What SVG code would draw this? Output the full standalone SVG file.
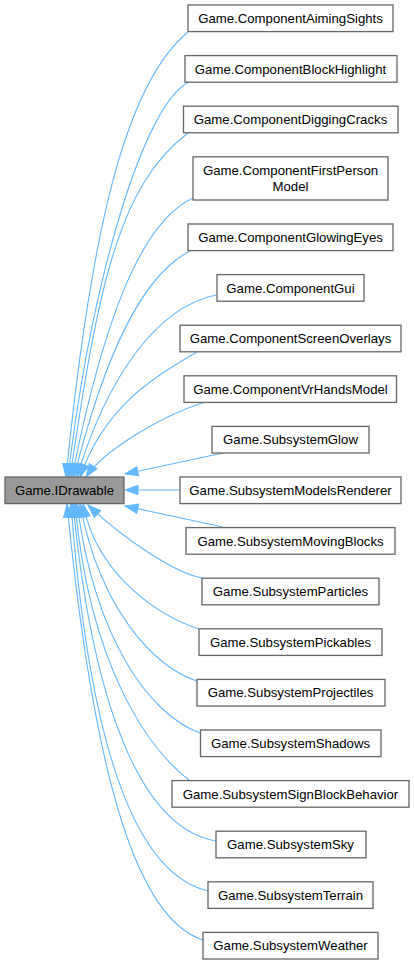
<svg xmlns="http://www.w3.org/2000/svg" width="414" height="965" viewBox="0 0 414 965">
<style>
.n rect{fill:#ffffff;stroke:#666666;stroke-width:1.3}
.n.main rect{fill:#999999}
.n text{font-family:"Liberation Sans",Arial,Helvetica,sans-serif;font-size:13.2px;fill:#000000;text-anchor:middle}
#edges path{fill:none;stroke:#63b8ff;stroke-width:1.1;marker-end:url(#ah)}
</style>
<defs>
<marker id="ah" markerUnits="userSpaceOnUse" markerWidth="14" markerHeight="10" refX="13" refY="4.65" orient="auto" overflow="visible">
<path d="M0,0 L13,4.65 L0,9.3 z" fill="#63b8ff" stroke="#63b8ff" stroke-width="1"/>
</marker>
</defs>
<rect width="414" height="965" fill="#ffffff"/>
<g id="edges">
<path d="M188,32 C126,83 91,227 66,477"/>
<path d="M189,82 C144,104 92,277 68,477"/>
<path d="M188,133 C116,187 97,297 70,477"/>
<path d="M193,198 C139,223 102,327 72,477"/>
<path d="M190,251 C141,276 104,357 74,477"/>
<path d="M216,295 C157,307 107,377 77,477"/>
<path d="M197,352 C153,377 104.5,407 80,477"/>
<path d="M205,402 C158,417 102.5,452 86,477"/>
<path d="M223,453 L125,474"/>
<path d="M180,490 L125,490"/>
<path d="M223,527 L125,506"/>
<path d="M202,578 C175,573 125,540 88,505"/>
<path d="M199,629 C165,618 98,580 83,504"/>
<path d="M197,681 C155,668 100,610 80,504"/>
<path d="M200,733 C150,715 95,640 77,504"/>
<path d="M190,781 C150,750 90,670 75,504"/>
<path d="M216,841 C150,830 95,730 73,504"/>
<path d="M208,891 C140,875 90,760 71,504"/>
<path d="M203,940 C140,920 95,790 67,504"/>
</g>
<g id="IDrawable" class="n main"><rect x="5" y="477" width="119" height="26.6"/><text x="64.5" y="495">Game.IDrawable</text></g>
<g id="ComponentAimingSights" class="n"><rect x="188" y="5" width="205" height="26.6"/><text x="290.5" y="23">Game.ComponentAimingSights</text></g>
<g id="ComponentBlockHighlight" class="n"><rect x="185" y="55.6" width="212" height="26.6"/><text x="290.5" y="73.6">Game.ComponentBlockHighlight</text></g>
<g id="ComponentDiggingCracks" class="n"><rect x="183.5" y="106.2" width="214.5" height="26.6"/><text x="290.5" y="124.2">Game.ComponentDiggingCracks</text></g>
<g id="ComponentFirstPersonModel" class="n"><rect x="193" y="156.8" width="195" height="43.2"/><text x="290.5" y="175">Game.ComponentFirstPerson</text><text x="290.5" y="190.6">Model</text></g>
<g id="ComponentGlowingEyes" class="n"><rect x="188" y="224" width="205" height="26.6"/><text x="290.5" y="242">Game.ComponentGlowingEyes</text></g>
<g id="ComponentGui" class="n"><rect x="217" y="274.6" width="147" height="26.6"/><text x="290.5" y="292.6">Game.ComponentGui</text></g>
<g id="ComponentScreenOverlays" class="n"><rect x="180" y="325.2" width="221" height="26.6"/><text x="290.5" y="343.2">Game.ComponentScreenOverlays</text></g>
<g id="ComponentVrHandsModel" class="n"><rect x="184" y="375.8" width="212.5" height="26.6"/><text x="290.5" y="393.8">Game.ComponentVrHandsModel</text></g>
<g id="SubsystemGlow" class="n"><rect x="212" y="426.4" width="157" height="26.6"/><text x="290.5" y="444.4">Game.SubsystemGlow</text></g>
<g id="SubsystemModelsRenderer" class="n"><rect x="180" y="477" width="221" height="26.6"/><text x="290.5" y="495">Game.SubsystemModelsRenderer</text></g>
<g id="SubsystemMovingBlocks" class="n"><rect x="186" y="527.6" width="209" height="26.6"/><text x="290.5" y="545.6">Game.SubsystemMovingBlocks</text></g>
<g id="SubsystemParticles" class="n"><rect x="202" y="578.2" width="177" height="26.6"/><text x="290.5" y="596.2">Game.SubsystemParticles</text></g>
<g id="SubsystemPickables" class="n"><rect x="199" y="628.8" width="183" height="26.6"/><text x="290.5" y="646.8">Game.SubsystemPickables</text></g>
<g id="SubsystemProjectiles" class="n"><rect x="197" y="679.4" width="188" height="26.6"/><text x="290.5" y="697.4">Game.SubsystemProjectiles</text></g>
<g id="SubsystemShadows" class="n"><rect x="200.5" y="730" width="180.5" height="26.6"/><text x="290.5" y="748">Game.SubsystemShadows</text></g>
<g id="SubsystemSignBlockBehavior" class="n"><rect x="172" y="780.6" width="237" height="26.6"/><text x="290.5" y="798.6">Game.SubsystemSignBlockBehavior</text></g>
<g id="SubsystemSky" class="n"><rect x="216" y="831.2" width="150" height="26.6"/><text x="290.5" y="849.2">Game.SubsystemSky</text></g>
<g id="SubsystemTerrain" class="n"><rect x="208" y="881.8" width="165" height="26.6"/><text x="290.5" y="899.8">Game.SubsystemTerrain</text></g>
<g id="SubsystemWeather" class="n"><rect x="203" y="932.4" width="175" height="26.6"/><text x="290.5" y="950.4">Game.SubsystemWeather</text></g>
</svg>
